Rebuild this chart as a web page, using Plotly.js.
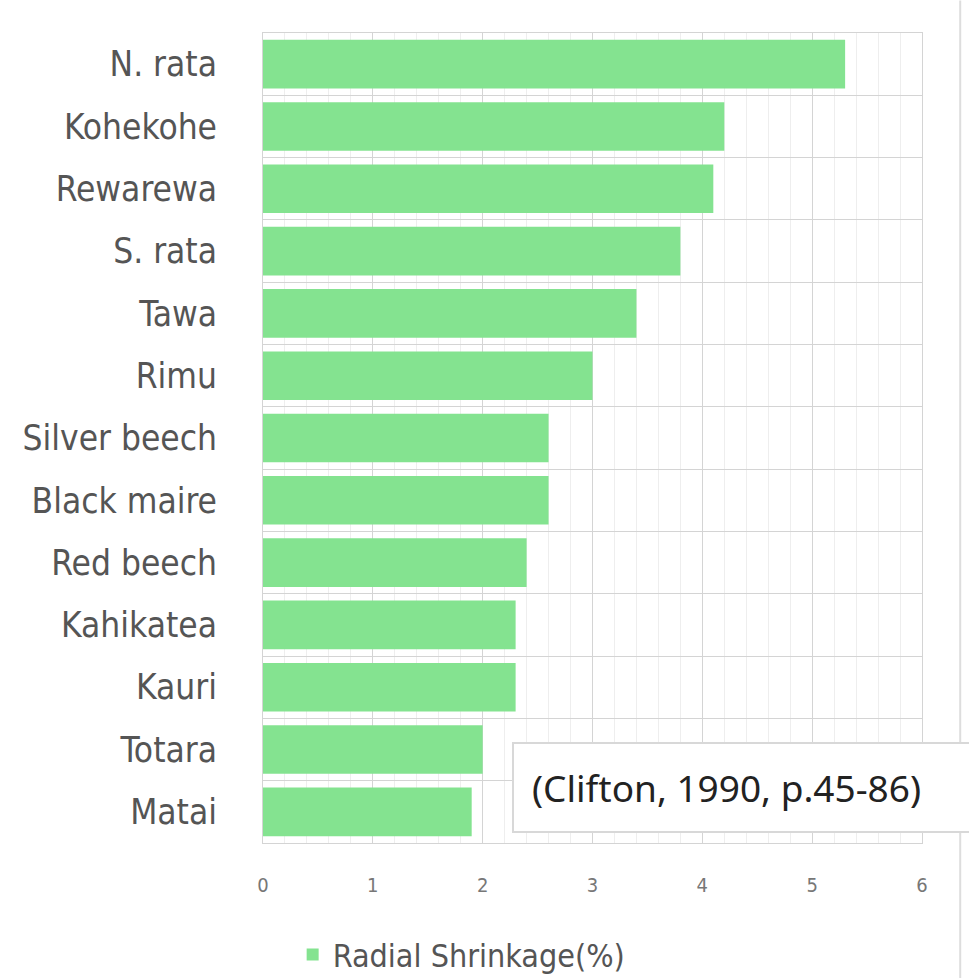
<!DOCTYPE html>
<html>
<head>
<meta charset="utf-8">
<script src="https://cdn.plot.ly/plotly-3.0.1.min.js"></script>
<style>html,body{margin:0;padding:0;background:#fff;}#chart{width:969px;height:978px;}</style>
</head>
<body>
<div id="chart"></div>
<script>
const species = ["N. rata","Kohekohe","Rewarewa","S. rata","Tawa","Rimu","Silver beech","Black maire","Red beech","Kahikatea","Kauri","Totara","Matai"];
const radialShrinkage = [5.3,4.2,4.1,3.8,3.4,3.0,2.6,2.6,2.4,2.3,2.3,2.0,1.9];
const seriesName = "Radial Shrinkage(%)";
const sourceNote = "(Clifton, 1990, p.45-86)";
const FONT = "'DejaVu Sans Condensed', 'Roboto', sans-serif";

const trace = {
  type: "bar",
  orientation: "h",
  y: species,
  x: radialShrinkage,
  name: seriesName,
  marker: {color: "#84E390"},
  showlegend: true,
  hoverinfo: "x+y"
};

const layout = {
  width: 969, height: 978,
  margin: {l: 263, r: 47, t: 33, b: 135, autoexpand: false},
  paper_bgcolor: "#fff", plot_bgcolor: "#fff",
  bargap: 0.22,
  font: {family: FONT, color: "#555"},
  xaxis: {
    range: [0, 6], dtick: 1, tick0: 0,
    showgrid: true, gridcolor: "#d4d4d4", gridwidth: 1,
    minor: {dtick: 0.2, showgrid: true, gridcolor: "#eeeeee", gridwidth: 1},
    zeroline: false,
    showline: true, linecolor: "#d4d4d4", mirror: true,
    ticks: "", ticklabelstandoff: 24,
    tickfont: {size: 20, color: "#777", family: FONT}
  },
  yaxis: {
    type: "category",
    autorange: "reversed",
    tickson: "boundaries",
    showgrid: true, gridcolor: "#d4d4d4", gridwidth: 1,
    showline: true, linecolor: "#d4d4d4", mirror: true,
    ticks: "", ticklabelstandoff: 38,
    tickfont: {size: 35, color: "#555", family: FONT}
  },
  legend: {
    orientation: "h", x: 0.045, xanchor: "left", y: -0.138, yanchor: "middle",
    font: {size: 32, color: "#555", family: FONT},
    itemwidth: 30
  },
  annotations: [{
    xref: "paper", yref: "paper", x: 0.378, y: 0.068, xanchor: "left", yanchor: "middle",
    text: sourceNote, showarrow: false, width: 440, align: "left",
    font: {size: 37, color: "#222", family: "'Noto Sans', 'Open Sans', sans-serif"},
    bgcolor: "#fff", bordercolor: "#d8d8d8", borderwidth: 2, borderpad: 18
  }],
  shapes: [{
    type: "line", xref: "paper", yref: "paper", x0: 1.058, x1: 1.058, y0: -0.2, y1: 1.04,
    line: {color: "#dddddd", width: 2}
  }]
};

Plotly.newPlot("chart", [trace], layout, {displayModeBar: false, staticPlot: true});
</script>
</body>
</html>
